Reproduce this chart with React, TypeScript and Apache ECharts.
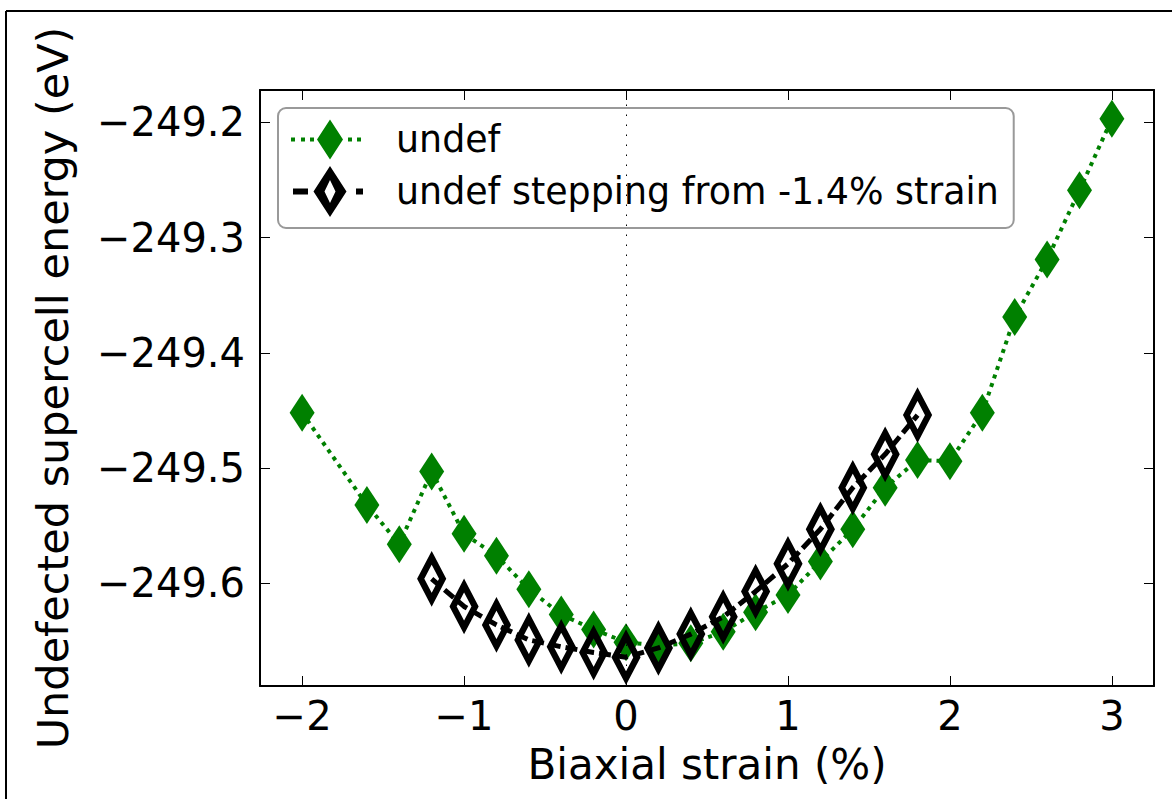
import React, { useEffect, useRef } from "react";
import * as echarts from "echarts";

// ---- data ----
const undefStrain = [-2, -1.6, -1.4, -1.2, -1.0, -0.8, -0.6, -0.4, -0.2, 0, 0.2, 0.4, 0.6, 0.8, 1.0, 1.2, 1.4, 1.6, 1.8, 2.0, 2.2, 2.4, 2.6, 2.8, 3.0];
const undefEnergy = [-249.452, -249.532, -249.566, -249.503, -249.557, -249.576, -249.605, -249.627, -249.640, -249.651, -249.654, -249.652, -249.642, -249.625, -249.610, -249.581, -249.553, -249.517, -249.493, -249.494, -249.452, -249.369, -249.319, -249.259, -249.197];

const steppingStrain = [-1.2, -1.0, -0.8, -0.6, -0.4, -0.2, 0, 0.2, 0.4, 0.6, 0.8, 1.0, 1.2, 1.4, 1.6, 1.8];
const steppingEnergy = [-249.596, -249.620, -249.636, -249.649, -249.655, -249.660, -249.664, -249.656, -249.644, -249.629, -249.607, -249.583, -249.553, -249.517, -249.488, -249.454];

const xTicks = [-2, -1, 0, 1, 2, 3];
const yTicks = [-249.6, -249.5, -249.4, -249.3, -249.2];
const seriesNames = ["undef", "undef stepping from -1.4% strain"];
const xTitle = "Biaxial strain (%)";
const yTitle = "Undefected supercell energy (eV)";

const FONT = "'DejaVu Sans', sans-serif";
const GREEN = "#008000";

const greenIcon =
  "path://M0 0L0.01 0L0 0.01Z M72 51L71.99 51L72 50.99Z " +
  "M0 23.5L4 23.5L4 27.5L0 27.5Z M10 23.5L14 23.5L14 27.5L10 27.5Z M19 23.5L23 23.5L23 27.5L19 27.5Z " +
  "M57 23.5L61 23.5L61 27.5L57 27.5Z M66 23.5L70 23.5L70 27.5L66 27.5Z " +
  "M39 5.5L52 25.5L39 45.5L26 25.5Z";
const blackIcon =
  "path://M0 0L0.01 0L0 0.01Z " +
  "M2 22.5L17 22.5L17 28.5L2 28.5Z M65 22.5L72 22.5L72 28.5L65 28.5Z " +
  "M39 0L55.5 25.5L39 51L22.5 25.5Z M39 14L33.5 25.5L39 37L44.5 25.5Z";

const minus = (s: string) => s.replace("-", "\u2212");

export default function App() {
  const ref = useRef<HTMLDivElement>(null);
  useEffect(() => {
    if (!ref.current) return;
    const chart = echarts.init(ref.current, undefined, { renderer: "svg" });
    const axisLine = { show: true, onZero: false, lineStyle: { color: "#000", width: 2 } };
    const tick = (vals: number[]) => ({
      show: true,
      inside: true,
      length: 10,
      customValues: vals,
      lineStyle: { color: "#000", width: 1 },
    });
    const xMin = -2.26, xMax = 3.26, yMin = -249.689, yMax = -249.172;
    chart.setOption({
      animation: false,
      backgroundColor: "#fff",
      grid: { left: 260, right: 18, top: 90, bottom: 113 },
      xAxis: [
        {
          type: "value", min: xMin, max: xMax, position: "bottom",
          axisLine, axisTick: tick(xTicks), splitLine: { show: false },
          axisLabel: {
            customValues: xTicks, formatter: (v: number) => minus(String(Math.round(v))),
            fontSize: 40, color: "#000", fontFamily: FONT, margin: 10,
          },
          name: xTitle, nameLocation: "middle", nameGap: 57,
          nameTextStyle: { fontSize: 42, color: "#000", fontFamily: FONT },
        },
        {
          type: "value", min: xMin, max: xMax, position: "top",
          axisLine, axisTick: tick(xTicks), splitLine: { show: false },
          axisLabel: { show: false },
        },
      ],
      yAxis: [
        {
          type: "value", min: yMin, max: yMax, position: "left",
          axisLine, axisTick: tick(yTicks), splitLine: { show: false },
          axisLabel: {
            customValues: yTicks, formatter: (v: number) => minus(v.toFixed(1)),
            fontSize: 40, color: "#000", fontFamily: FONT, margin: 15,
          },
          name: yTitle, nameLocation: "middle", nameGap: 186,
          nameTextStyle: { fontSize: 43, color: "#000", fontFamily: FONT },
        },
        {
          type: "value", min: yMin, max: yMax, position: "right",
          axisLine, axisTick: tick(yTicks), splitLine: { show: false },
          axisLabel: { show: false },
        },
      ],
      legend: {
        orient: "vertical", left: 278, top: 108,
        padding: [6, 15, 11, 13],
        itemWidth: 72, itemHeight: 51, itemGap: 1,
        backgroundColor: "#fff", borderColor: "#999", borderWidth: 2, borderRadius: 8,
        selectedMode: false,
        textStyle: { fontSize: 36.4, color: "#000", fontFamily: FONT, padding: [0, 0, 0, 28] },
        data: [
          { name: seriesNames[0], icon: greenIcon, itemStyle: { color: GREEN, borderWidth: 0 } },
          { name: seriesNames[1], icon: blackIcon, itemStyle: { color: "#000", borderWidth: 0 } },
        ],
      },
      series: [
        {
          name: seriesNames[0], type: "line", xAxisIndex: 0, yAxisIndex: 0,
          data: undefStrain.map((x, i) => [x, undefEnergy[i]]),
          symbol: "diamond", symbolSize: [25, 38],
          itemStyle: { color: GREEN, borderWidth: 0 },
          lineStyle: { color: GREEN, width: 4, type: [4, 5] },
          emphasis: { disabled: true },
          z: 2,
          markLine: {
            silent: true, symbol: "none", label: { show: false },
            lineStyle: { color: "#000", width: 1, type: [1.5, 8.5] },
            data: [{ xAxis: 0 }],
          },
        },
        {
          name: seriesNames[1], type: "line", xAxisIndex: 0, yAxisIndex: 0,
          data: steppingStrain.map((x, i) => [x, steppingEnergy[i]]),
          symbol: "diamond", symbolSize: [22, 42],
          itemStyle: { color: "rgba(0,0,0,0)", borderColor: "#000", borderWidth: 7 },
          lineStyle: { color: "#000", width: 5, type: [12, 5] },
          emphasis: { disabled: true },
          z: 3,
        },
      ],
      graphic: [
        { type: "line", shape: { x1: 6, y1: 11, x2: 1172, y2: 11 }, style: { stroke: "#000", lineWidth: 2 } },
        { type: "line", shape: { x1: 6, y1: 11, x2: 6, y2: 799 }, style: { stroke: "#000", lineWidth: 2 } },
      ],
    });
    return () => chart.dispose();
  }, []);
  return (
    <div
      ref={ref}
      style={{ position: "absolute", left: 0, top: 0, width: 1172, height: 799, background: "#fff" }}
    />
  );
}
